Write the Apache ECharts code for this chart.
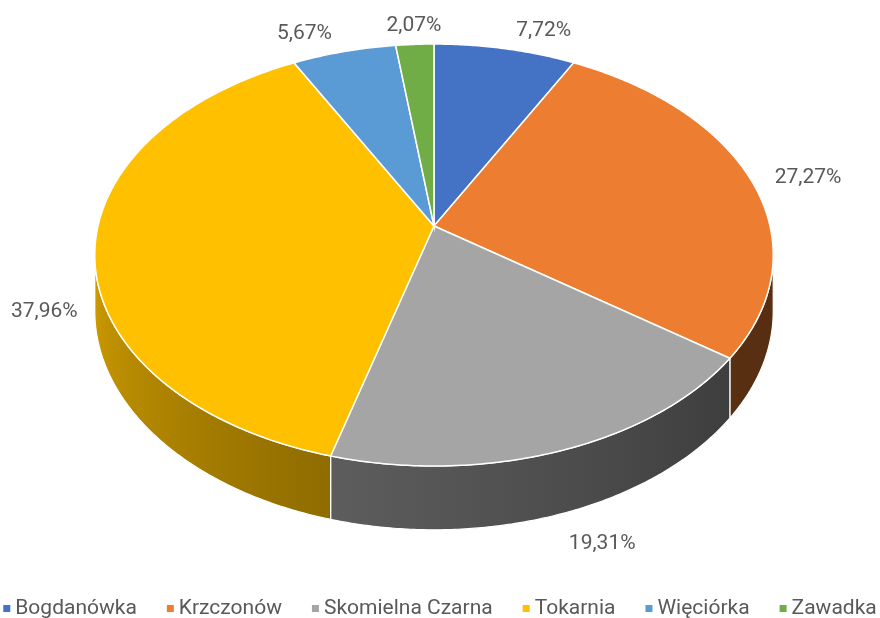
<!DOCTYPE html>
<html>
<head>
<meta charset="utf-8">
<script src="https://cdn.jsdelivr.net/npm/echarts@6/dist/echarts.min.js"></script>
<style>
  html, body { margin: 0; padding: 0; background: #fff; }
  #chart { width: 880px; height: 618px; }
</style>
</head>
<body>
<div id="chart"></div>
<script>
// data
const categories = ['Bogdanówka', 'Krzczonów', 'Skomielna Czarna', 'Tokarnia', 'Więciórka', 'Zawadka']
const shares = [7.72, 27.27, 19.31, 37.96, 5.67, 2.07]
const colors = ['#4472C4', '#ED7D31', '#A5A5A5', '#FFC000', '#5B9BD5', '#70AD47']

// 3d pie geometry (perspective projection of a flat disc)
const CX = 434, CY = 226      // apex
const RX = 336, RY = 207      // radii
const K = 7.27                // perspective depth
const H = 55                  // thickness
const FONT = 'Roboto, "Noto Sans", sans-serif'

const total = shares.reduce((a, b) => a + b, 0)
const startAngles = []
let acc = 0
shares.forEach(v => { startAngles.push(acc / total * Math.PI * 2); acc += v })

function proj(th, r, h) {
  const s = K / (K + r * Math.cos(th))
  return [CX + RX * r * Math.sin(th) * s, CY - RY * r * Math.cos(th) * s + H * h * s]
}

// wall brightness by angle (degrees)
const shadeStops = [[90, 0.36], [130, 0.38], [195, 0.56], [270, 0.84]]
function shade(deg) {
  if (deg <= shadeStops[0][0]) return shadeStops[0][1]
  for (let i = 1; i < shadeStops.length; i++) {
    if (deg <= shadeStops[i][0]) {
      const [a0, b0] = shadeStops[i - 1], [a1, b1] = shadeStops[i]
      return b0 + (b1 - b0) * (deg - a0) / (a1 - a0)
    }
  }
  return shadeStops[shadeStops.length - 1][1]
}
function darken(hex, f) {
  const n = parseInt(hex.slice(1), 16)
  const r = Math.round(((n >> 16) & 255) * f)
  const g = Math.round(((n >> 8) & 255) * f)
  const b = Math.round((n & 255) * f)
  return `rgb(${r},${g},${b})`
}

const silL = Math.acos(-1 / K)               // right silhouette (~98deg)
const silR = Math.PI * 2 - silL              // left silhouette (~262deg)

function renderSlice(idx) {
  return function (params, api) {
    const a0 = startAngles[idx]
    const a1 = a0 + shares[idx] / total * Math.PI * 2
    const children = []
    const step = Math.PI / 360

    // side wall
    const w0 = Math.max(a0, silL), w1 = Math.min(a1, silR)
    if (w1 > w0) {
      const top = [], bot = []
      for (let t = w0; t < w1; t += step) { top.push(proj(t, 1, 0)); bot.push(proj(t, 1, 1)) }
      top.push(proj(w1, 1, 0)); bot.push(proj(w1, 1, 1))
      const pts = top.concat(bot.reverse())
      const xs = pts.map(p => p[0])
      const xMin = Math.min(...xs), xMax = Math.max(...xs)
      const stops = []
      const n = 8
      for (let i = 0; i <= n; i++) {
        const t = w0 + (w1 - w0) * i / n
        const x = proj(t, 1, 0)[0]
        stops.push({ offset: (x - xMin) / Math.max(1, xMax - xMin), color: darken(colors[idx], shade(t * 180 / Math.PI)) })
      }
      stops.sort((p, q) => p.offset - q.offset)
      children.push({
        type: 'polygon',
        z2: 1,
        shape: { points: pts },
        style: {
          fill: new echarts.graphic.LinearGradient(xMin, 0, xMax, 0, stops, true),
          stroke: '#fff', lineWidth: 1.2
        }
      })
    }

    // top face
    const face = [[CX, CY]]
    for (let t = a0; t < a1; t += step) face.push(proj(t, 1, 0))
    face.push(proj(a1, 1, 0))
    children.push({
      type: 'polygon',
      z2: 10,
      shape: { points: face },
      style: { fill: colors[idx], stroke: '#fff', lineWidth: 1.5 }
    })

    // data label
    const mid = (a0 + a1) / 2
    const sn = Math.sin(mid), cs = Math.cos(mid)
    const front = cs < 0
    const anchor = proj(mid, 1.05, front ? 1 : 0)
    const dx = front ? 0 : (sn > 0.1 ? 8 : (sn < -0.1 ? -8 : 0))
    const dy = front ? 6 : 0
    children.push({
      type: 'text',
      z2: 20,
      x: anchor[0] + dx, y: anchor[1] + dy,
      style: {
        text: shares[idx].toFixed(2).replace('.', ',') + '%',
        fill: '#595959',
        font: '21px ' + FONT,
        align: sn > 0.1 ? 'left' : (sn < -0.1 ? 'right' : 'center'),
        verticalAlign: cs > 0.3 ? 'bottom' : (cs < -0.3 ? 'top' : 'middle')
      }
    })
    return { type: 'group', children }
  }
}

const chart = echarts.init(document.getElementById('chart'))
chart.setOption({
  animation: false,
  legend: {
    data: categories,
    top: 598,
    left: 'center',
    padding: 0,
    icon: 'rect',
    itemWidth: 7,
    itemHeight: 7,
    itemGap: 30,
    textStyle: { color: '#595959', fontSize: 21, fontFamily: FONT },
    selectedMode: false
  },
  series: categories.map((name, i) => ({
    type: 'custom',
    name,
    coordinateSystem: 'none',
    itemStyle: { color: colors[i] },
    data: [[shares[i]]],
    renderItem: renderSlice(i)
  }))
})
</script>
</body>
</html>
